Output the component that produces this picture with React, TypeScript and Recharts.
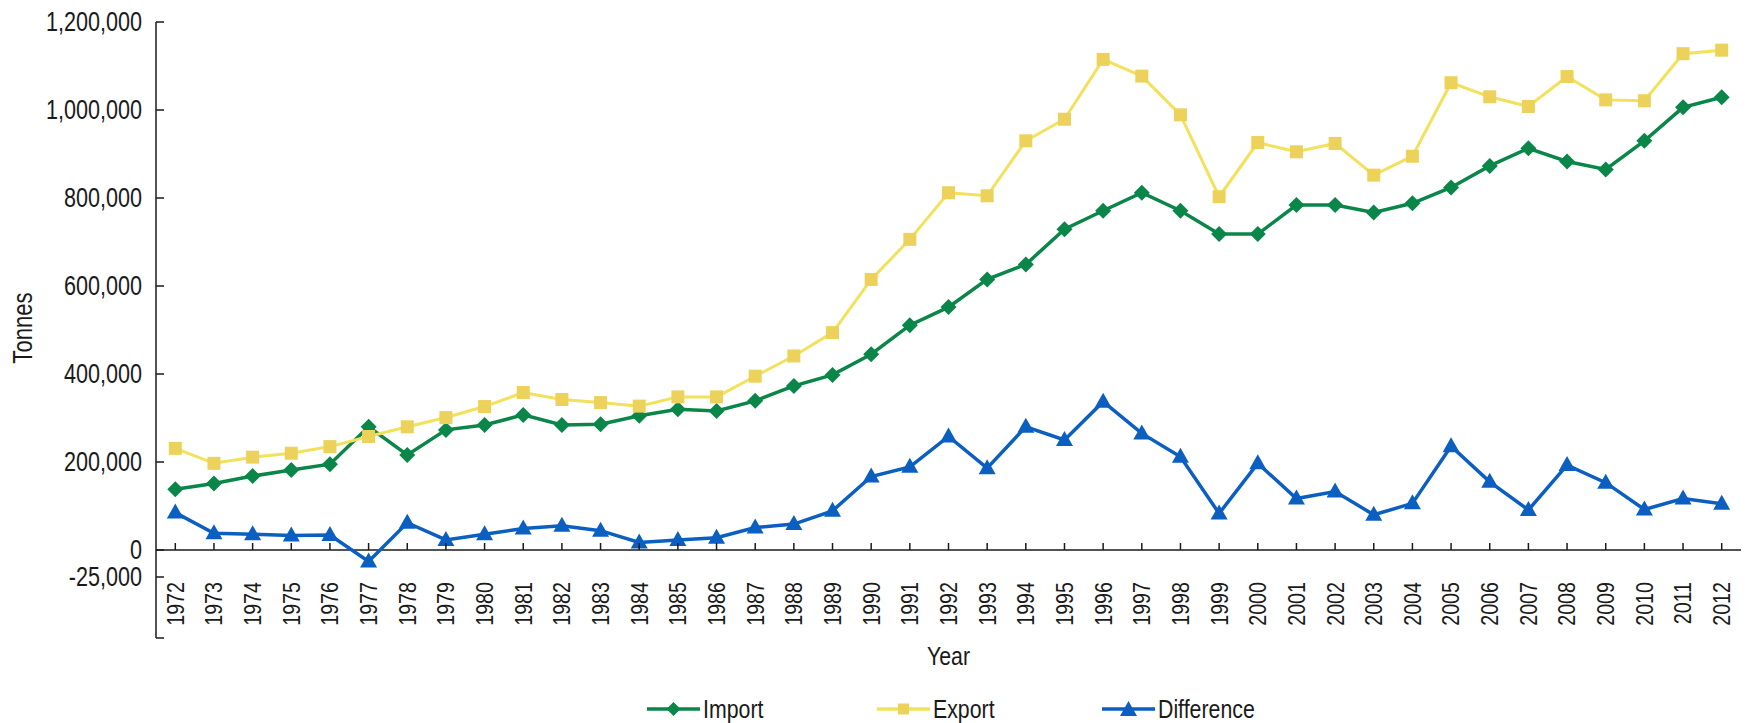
import { LineChart, Line, XAxis, YAxis, ReferenceLine } from 'recharts'

const years = [
  '1972', '1973', '1974', '1975', '1976', '1977', '1978', '1979', '1980', '1981',
  '1982', '1983', '1984', '1985', '1986', '1987', '1988', '1989', '1990', '1991',
  '1992', '1993', '1994', '1995', '1996', '1997', '1998', '1999', '2000', '2001',
  '2002', '2003', '2004', '2005', '2006', '2007', '2008', '2009', '2010', '2011', '2012',
]

// thousands of tonnes
const importK = [
  138, 151, 168, 182, 195, 280, 216, 273, 284, 307,
  284, 286, 305, 320, 316, 339, 373, 398, 445, 511,
  552, 615, 649, 729, 771, 812, 771, 718, 718, 784,
  784, 767, 788, 824, 873, 913, 883, 865, 930, 1006, 1029,
]
const exportK = [
  231, 197, 211, 220, 235, 258, 280, 301, 326, 358,
  342, 335, 327, 348, 348, 395, 441, 494, 615, 706,
  812, 805, 930, 979, 1115, 1077, 989, 803, 926, 905,
  924, 852, 895, 1062, 1030, 1008, 1076, 1023, 1021, 1128, 1136,
]
const differenceK = [
  85, 38, 36, 33, 34, -26, 62, 23, 36, 49,
  55, 44, 17, 23, 28, 51, 59, 89, 167, 189,
  258, 186, 280, 250, 337, 265, 212, 83, 197, 117,
  133, 80, 106, 236, 155, 91, 193, 153, 92, 117, 105,
]

const yTicks = [-200000, -25000, 0, 200000, 400000, 600000, 800000, 1000000, 1200000]

const data = years.map((year, i) => ({
  year,
  import: importK[i] * 1000,
  export: exportK[i] * 1000,
  difference: differenceK[i] * 1000,
}))

const FONT = "'Liberation Sans', Arial, sans-serif"
const NARROW = 0.82 // the original uses a condensed face; squeeze the regular one
const GREEN = '#0a8649'
const YELLOW = '#f3e15c'
const YELLOW_MARK = '#ecd25a'
const BLUE = '#0b5fc1'
const INK = '#1a1a1a'

const Y_MIN = -200000
const Y_MAX = 1200000
const PLOT_TOP = 22
const PLOT_H = 616
const ZERO_Y = PLOT_TOP + (PLOT_H * Y_MAX) / (Y_MAX - Y_MIN)

function Diamond({ cx, cy, color, r = 8 }: { cx: number; cy: number; color: string; r?: number }) {
  return <polygon points={`${cx},${cy - r} ${cx + r},${cy} ${cx},${cy + r} ${cx - r},${cy}`} fill={color} />
}

function Square({ cx, cy, color, s = 13 }: { cx: number; cy: number; color: string; s?: number }) {
  return <rect x={cx - s / 2} y={cy - s / 2} width={s} height={s} fill={color} />
}

function Triangle({ cx, cy, color }: { cx: number; cy: number; color: string }) {
  return <polygon points={`${cx},${cy - 9} ${cx + 8.5},${cy + 6} ${cx - 8.5},${cy + 6}`} fill={color} />
}

function NarrowText({ x, y, size, anchor = 'start', rotate = 0, squeeze = NARROW, children }: any) {
  return (
    <text
      transform={`translate(${x},${y}) rotate(${rotate}) scale(${squeeze},1)`}
      textAnchor={anchor}
      dy="0.35em"
      fontSize={size}
      fill={INK}
      fontFamily={FONT}
    >
      {children}
    </text>
  )
}

function YTick({ x, y, payload }: any) {
  const v = payload.value as number
  // the -25,000 label sits lower than its value in the original
  const yy = v === -25000 ? y + 16 : y
  return (
    <g>
      <line x1={x} x2={x + 8} y1={yy} y2={yy} stroke={INK} strokeWidth={1.5} />
      {v !== Y_MIN && (
        <NarrowText x={x - 14} y={yy} size={27} anchor="end" squeeze={0.8}>
          {v.toLocaleString('en-US')}
        </NarrowText>
      )}
    </g>
  )
}

function YearTick({ x, payload }: any) {
  return (
    <g>
      <line x1={x} x2={x} y1={ZERO_Y - 7} y2={ZERO_Y} stroke={INK} strokeWidth={1.5} />
      <NarrowText x={x} y={ZERO_Y + 32} size={24} anchor="end" rotate={-90}>
        {payload.value}
      </NarrowText>
    </g>
  )
}

function YTitle({ viewBox }: any) {
  return (
    <NarrowText x={viewBox.x + 23} y={328} size={27} anchor="middle" rotate={-90}>
      Tonnes
    </NarrowText>
  )
}

function XTitle({ viewBox }: any) {
  return (
    <NarrowText x={viewBox.x + viewBox.width / 2} y={viewBox.y + 18} size={26} anchor="middle">
      Year
    </NarrowText>
  )
}

const legendItems = [
  { label: 'Import', kind: 'diamond', color: GREEN, mark: GREEN, left: 647 },
  { label: 'Export', kind: 'square', color: YELLOW, mark: YELLOW_MARK, left: 877 },
  { label: 'Difference', kind: 'triangle', color: BLUE, mark: BLUE, left: 1102 },
]

function ChartLegend() {
  const y = 709
  return (
    <svg width={1752} height={723} style={{ position: 'absolute', left: 0, top: 0, pointerEvents: 'none' }}>
      {legendItems.map(item => {
        const mid = item.left + 26.5
        return (
          <g key={item.label}>
            <line x1={item.left} x2={item.left + 53} y1={y} y2={y} stroke={item.color} strokeWidth={3.5} />
            {item.kind === 'diamond' && <Diamond cx={mid} cy={y} color={item.mark} r={7} />}
            {item.kind === 'square' && <Square cx={mid} cy={y} color={item.mark} s={11} />}
            {item.kind === 'triangle' && <Triangle cx={mid} cy={y + 1} color={item.mark} />}
            <NarrowText x={item.left + 56} y={y} size={26}>
              {item.label}
            </NarrowText>
          </g>
        )
      })}
    </svg>
  )
}

export default function App() {
  return (
    <div style={{ position: 'absolute', left: 0, top: 0, width: 1752, height: 723, background: '#fff', fontFamily: FONT }}>
      <LineChart width={1752} height={723} data={data} margin={{ top: PLOT_TOP, right: 11, bottom: 0, left: 0 }}>
        <XAxis
          dataKey="year"
          height={85}
          interval={0}
          axisLine={false}
          tickLine={false}
          tickSize={0}
          tickMargin={0}
          padding={{ left: 19.3, right: 19.3 }}
          tick={<YearTick />}
          label={<XTitle />}
        />
        <YAxis
          width={156}
          domain={[Y_MIN, Y_MAX]}
          ticks={yTicks}
          interval={0}
          axisLine={{ stroke: INK, strokeWidth: 1.5 }}
          tickLine={false}
          tickSize={0}
          tickMargin={0}
          tick={<YTick />}
          label={<YTitle />}
        />
        <ReferenceLine y={0} stroke={INK} strokeWidth={1.5} />
        <Line
          dataKey="import"
          stroke={GREEN}
          strokeWidth={3.5}
          isAnimationActive={false}
          activeDot={false}
          dot={(p: any) => <Diamond key={`i-${p.index}`} cx={p.cx} cy={p.cy} color={GREEN} />}
        />
        <Line
          dataKey="export"
          stroke={YELLOW}
          strokeWidth={3}
          isAnimationActive={false}
          activeDot={false}
          dot={(p: any) => <Square key={`e-${p.index}`} cx={p.cx} cy={p.cy} color={YELLOW_MARK} />}
        />
        <Line
          dataKey="difference"
          stroke={BLUE}
          strokeWidth={3.5}
          isAnimationActive={false}
          activeDot={false}
          dot={(p: any) => <Triangle key={`d-${p.index}`} cx={p.cx} cy={p.cy} color={BLUE} />}
        />
      </LineChart>
      <ChartLegend />
    </div>
  )
}
